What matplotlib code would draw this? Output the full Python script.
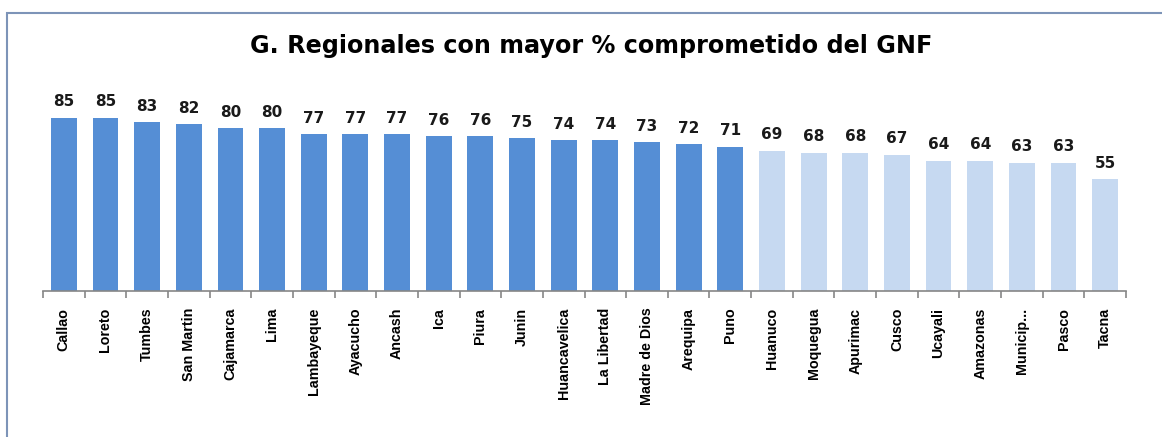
import numpy as np
import matplotlib.pyplot as plt
from matplotlib.patches import Rectangle
from matplotlib import font_manager

regiones = ['Callao', 'Loreto', 'Tumbes', 'San Martin', 'Cajamarca', 'Lima',
            'Lambayeque', 'Ayacucho', 'Ancash', 'Ica', 'Piura', 'Junin',
            'Huancavelica', 'La Libertad', 'Madre de Dios', 'Arequipa', 'Puno',
            'Huanuco', 'Moquegua', 'Apurimac', 'Cusco', 'Ucayali', 'Amazonas',
            'Municip...', 'Pasco', 'Tacna']
valores = [85, 85, 83, 82, 80, 80, 77, 77, 77, 76, 76, 75, 74, 74, 73, 72, 71,
           69, 68, 68, 67, 64, 64, 63, 63, 55]
n_oscuro = 17  # primeras 17 en azul fuerte


def fuente_estrecha():
    # fuente angosta para las etiquetas del eje x, con su tamaño
    for nombre, tam in [('Liberation Sans Narrow', 12.5),
                        ('DejaVu Sans Condensed', 10.5),
                        ('Liberation Sans', 10.3)]:
        try:
            font_manager.findfont(font_manager.FontProperties(family=nombre),
                                  fallback_to_default=False)
            return nombre, tam
        except ValueError:
            pass
    return 'DejaVu Sans', 9


fam_x, tam_x = fuente_estrecha()

n = len(regiones)
colores = ['#558ED5'] * n_oscuro + ['#C6D9F1'] * (n - n_oscuro)

fig = plt.figure(figsize=(11.62, 4.37), dpi=100)
ax = fig.add_axes([43/1162, 1 - 291/437, (1126 - 43)/1162, 203.5/437])

x = np.arange(n)
ax.bar(x, valores, width=0.62, color=colores, zorder=2)
for xi, v in zip(x, valores):
    ax.text(xi, v + 4.2, str(v), ha='center', va='bottom', fontsize=11,
            fontweight='bold', family='DejaVu Sans', color='#1a1a1a')

ax.set_xlim(-0.5, n - 0.5)
ax.set_ylim(0, 100)
ax.set_yticks([])
for s in ['top', 'right', 'left']:
    ax.spines[s].set_visible(False)
ax.spines['bottom'].set_color('#868686')
ax.spines['bottom'].set_linewidth(1.2)

ax.set_xticks(x)
ax.set_xticklabels(regiones, rotation=90, fontsize=tam_x, fontweight='bold',
                   family=[fam_x, 'DejaVu Sans'])
ax.tick_params(axis='x', which='major', length=0, pad=12)
ax.set_xticks(np.arange(n + 1) - 0.5, minor=True)
ax.tick_params(axis='x', which='minor', length=5, width=1.2, color='#868686',
               direction='out')

fig.text(0.509, 1 - 46/437, 'G. Regionales con mayor % comprometido del GNF',
         ha='center', va='center', fontsize=17.2, fontweight='bold',
         family='DejaVu Sans')

fig.patches.append(Rectangle((7/1162, -0.1), 1.2, 1 - 13/437 + 0.1,
                             transform=fig.transFigure, fill=False,
                             edgecolor='#7D94B8', linewidth=1.5))

fig.savefig('out.png', dpi=100)
